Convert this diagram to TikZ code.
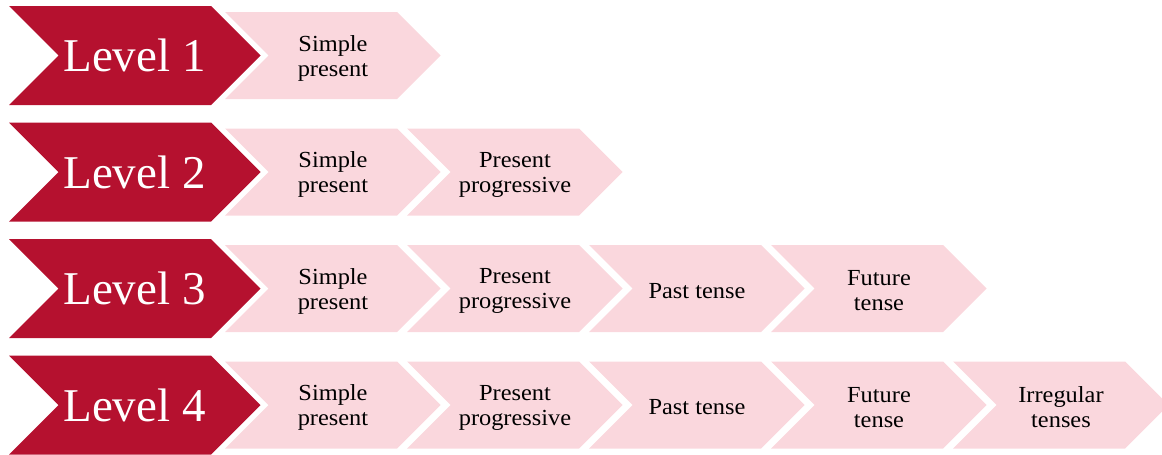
\documentclass[tikz,border=0pt]{standalone}
\usepackage{fontspec}
\setmainfont{Liberation Serif}
\newfontfamily\tensfont[FakeStretch=1.06]{Liberation Serif}
\definecolor{lvred}{HTML}{B5112F}
\definecolor{lvpink}{HTML}{FAD7DD}
\newcommand\tensename[1]{\ifcase#1 Simple\\present\or Present\\progressive\or Past tense\or Future\\tense\or Irregular\\tenses\fi}
\begin{document}
\begin{tikzpicture}[x=1pt,y=-1pt,
  redchev/.style={fill=lvred},
  pinkchev/.style={fill=lvpink},
  lvtext/.style={text=white, font=\fontsize{47}{50}\selectfont, inner sep=0pt},
  tenstext/.style={align=center, font=\tensfont\fontsize{23}{25}\selectfont, inner sep=0pt}]
\useasboundingbox (0,0) rectangle (1162,455);
\foreach \r/\last in {0/0,1/1,2/3,3/4} {
  \pgfmathsetmacro\t{6+116.5*\r}
  \pgfmathtruncatemacro\lab{\r+1}
  \path[redchev] (9,\t) -- (211,\t) -- (260.5,\t+49.5) -- (211,\t+99) -- (9,\t+99) -- (58.5,\t+49.5) -- cycle;
  \node[lvtext] (lv\lab) at (134.5,\t+49.5) {Level \lab};
  \foreach \c in {0,...,\last} {
    \pgfmathsetmacro\xo{225+182*\c}
    \path[pinkchev] (\xo,\t+6) -- (\xo+172,\t+6) -- (\xo+215.5,\t+49.5) -- (\xo+172,\t+93) -- (\xo,\t+93) -- (\xo+43.5,\t+49.5) -- cycle;
    \node[tenstext] (tn\r-\c) at (\xo+108,\t+52) {\tensename{\c}};
  }
}
\end{tikzpicture}
\end{document}
